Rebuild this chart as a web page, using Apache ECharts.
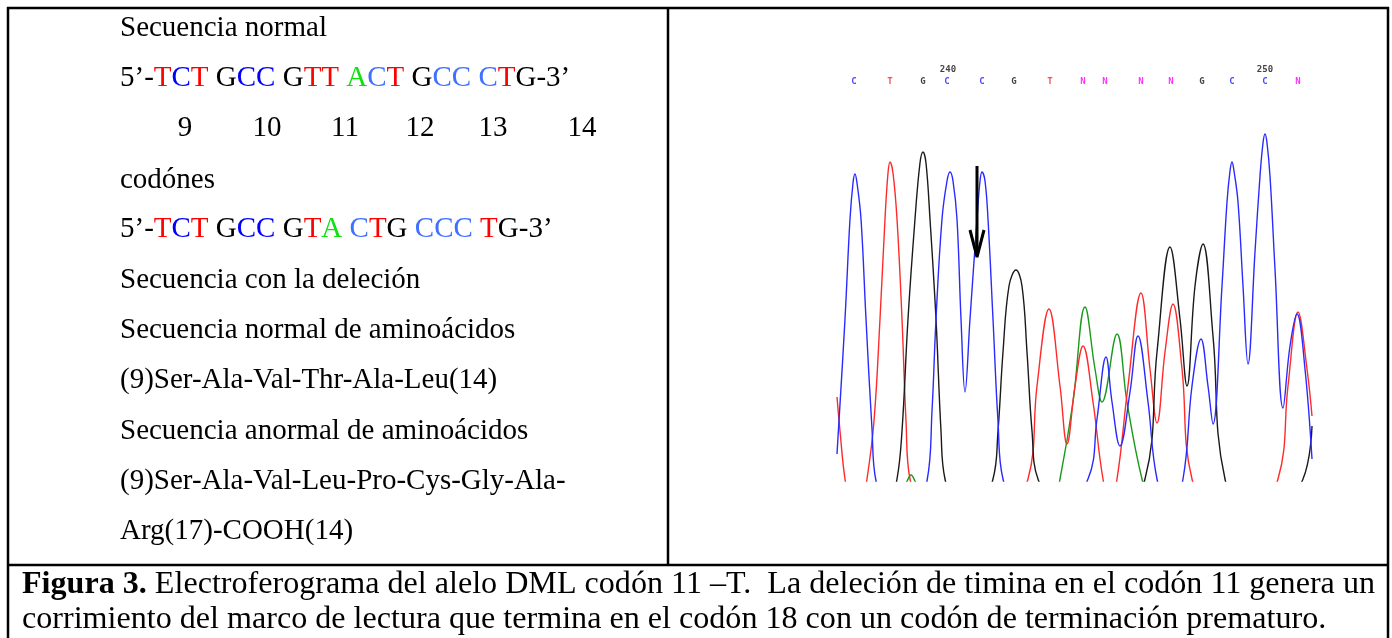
<!DOCTYPE html>
<html>
<head>
<meta charset="utf-8">
<script src="https://cdn.jsdelivr.net/npm/echarts@6.0.0/dist/echarts.min.js"></script>
<style>
  html, body { margin: 0; background: #fff; }
  #chart { width: 1392px; height: 638px; }
</style>
</head>
<body>
<div id="chart"></div>
<script>
// trazas del electroferograma: [posición, intensidad]
const blueTrace = [[1,27],[9,162],[14,262],[17,298],[19,307],[21,298],[25,262],[30,162],[36,52],[40,0],[65,-60],[91,0],[96,70],[100,162],[106,262],[111,300],[114,309],[117,300],[121,262],[125,162],[129,89],[134,162],[141,262],[144,300],[146,309],[149,300],[152,262],[157,162],[162,60],[167,2],[210,-60],[252,2],[261,62],[270,124],[276,79],[284,35],[294,89],[302,145],[312,79],[321,2],[334,-30],[347,2],[356,95],[365,142],[372,95],[377,57],[386,195],[391,279],[394,310],[396,319],[398,310],[402,279],[407,195],[412,117],[419,229],[424,305],[427,338],[429,347],[431,338],[434,305],[439,212],[447,73],[454,135],[461,167],[469,112],[476,22]];
const redTrace = [[1,84],[4,50],[9,2],[20,-60],[31,2],[38,60],[44,162],[49,262],[52,308],[54,319],[57,308],[61,262],[66,162],[70,60],[74,2],[130,-60],[192,2],[201,95],[213,172],[224,95],[231,37],[239,95],[247,135],[257,79],[267,2],[274,-20],[281,2],[292,95],[305,188],[314,112],[321,58],[329,129],[337,177],[346,112],[356,2],[400,-60],[442,2],[452,95],[462,169],[471,112],[476,65]];
const blackTrace = [[50,-40],[61,2],[66,50],[72,162],[79,262],[84,318],[87,329],[90,318],[94,262],[100,162],[105,50],[109,2],[133,-60],[157,2],[162,50],[167,129],[173,195],[180,211],[186,195],[191,129],[196,50],[202,2],[255,-60],[309,2],[321,129],[334,234],[344,162],[351,95],[359,195],[367,237],[377,145],[389,2],[428,-60],[467,2],[476,55]];
const greenTrace = [[62,-12],[70,-2],[75,6],[80,-2],[86,-12],[210,-60],[224,2],[237,79],[249,174],[259,112],[266,79],[281,147],[291,79],[306,2],[320,-40]];

// bases leídas y numeración
const baseCalls = ['C','T','G','C','C','G','T','N','N','N','N','G','C','C','N'];
const basePos = [18,54,87,111,146,178,214,247,269,305,335,366,396,429,462];
const baseNumbers = ['240','250'];
const baseNumberPos = [112,429];
const baseColors = { C: '#1a1aff', T: '#ff2020', G: '#111111', A: '#1a9a1a', N: '#ff00ff' };

// flecha
const arrowShaft = [[141,315],[141,226]];
const arrowHead = [[134,251],[141,224],[148,251]];

// textos de la celda izquierda
const seqNormal = [['5’-','k'],['T','r'],['C','b'],['T','r'],[' G','k'],['CC','b'],[' G','k'],['TT','r'],[' ','k'],['A','g'],['C','lb'],['T','r'],[' G','k'],['CC','lb'],[' ','k'],['C','lb'],['T','r'],['G-3’','k']];
const seqDeletion = [['5’-','k'],['T','r'],['C','b'],['T','r'],[' G','k'],['CC','b'],[' G','k'],['T','r'],['A','g'],[' ','k'],['C','lb'],['T','r'],['G ','k'],['CCC','lb'],[' ','k'],['T','r'],['G-3’','k']];
const codonNumbers = ['9','10','11','12','13','14'];
const codonNumberX = [185,267,345,420,493,582];
const plainLines = [
  ['Secuencia normal', 28],
  ['codónes', 180],
  ['Secuencia con la deleción', 280],
  ['Secuencia normal de aminoácidos', 330],
  ['(9)Ser-Ala-Val-Thr-Ala-Leu(14)', 380],
  ['Secuencia anormal de aminoácidos', 431],
  ['(9)Ser-Ala-Val-Leu-Pro-Cys-Gly-Ala-', 481],
  ['Arg(17)-COOH(14)', 531]
];
const captionBold = 'Figura 3.';
const captionLine1 = ' Electroferograma del alelo DML codón 11 \u2013T.  La deleción de timina en el codón 11 genera un';
const captionLine2 = 'corrimiento del marco de lectura que termina en el codón 18 con un codón de terminación prematuro.';

const serif = '"Liberation Serif", "Times New Roman", serif';
const fs = 29;
const seqRich = {
  k: { fill: '#000', fontSize: fs, fontFamily: serif },
  r: { fill: '#ff0000', fontSize: fs, fontFamily: serif },
  b: { fill: '#0000ff', fontSize: fs, fontFamily: serif },
  lb: { fill: '#4070ff', fontSize: fs, fontFamily: serif },
  g: { fill: '#10e010', fontSize: fs, fontFamily: serif }
};
const toRich = (parts) => parts.map(p => '{' + p[1] + '|' + p[0] + '}').join('');

// ancho para ajustar el pie de figura (letra condensada)
const ctx = document.createElement('canvas').getContext('2d');
const measure = (str, font) => { ctx.font = font; return ctx.measureText(str).width; };
const capFs = 32;
const capW = measure(captionBold, 'bold ' + capFs + 'px ' + serif) + measure(captionLine1, capFs + 'px ' + serif);
const capScale = (1375 - 22) / capW;

const graphic = [];
const lineStyle = { stroke: '#000', lineWidth: 2.5 };
[[7,8,1389,8],[8,7,8,638],[1388,7,1388,638],[668,7,668,565],[7,565,1389,565]].forEach(s => {
  graphic.push({ type: 'line', shape: { x1: s[0], y1: s[1], x2: s[2], y2: s[3] }, style: lineStyle, silent: true });
});
plainLines.forEach(l => {
  graphic.push({ type: 'text', x: 120, y: l[1], style: { text: l[0], font: fs + 'px ' + serif, fill: '#000', verticalAlign: 'middle' } });
});
graphic.push({ type: 'text', x: 120, y: 78, style: { text: toRich(seqNormal), rich: seqRich, verticalAlign: 'middle' } });
graphic.push({ type: 'text', x: 120, y: 229, style: { text: toRich(seqDeletion), rich: seqRich, verticalAlign: 'middle' } });
codonNumbers.forEach((n, i) => {
  graphic.push({ type: 'text', x: codonNumberX[i], y: 128, style: { text: n, font: fs + 'px ' + serif, fill: '#000', align: 'center', verticalAlign: 'middle' } });
});
graphic.push({
  type: 'text', x: 22, y: 585, scaleX: capScale,
  style: {
    text: '{b|' + captionBold + '}{n|' + captionLine1 + '}',
    verticalAlign: 'middle',
    rich: {
      b: { fontSize: capFs, fontWeight: 'bold', fontFamily: serif, fill: '#000' },
      n: { fontSize: capFs, fontFamily: serif, fill: '#000' }
    }
  }
});
graphic.push({
  type: 'text', x: 22, y: 620, scaleX: capScale,
  style: { text: captionLine2, font: capFs + 'px ' + serif, fill: '#000', verticalAlign: 'middle' }
});

const letterData = baseCalls.map((b, i) => ({
  value: [basePos[i], 399, b],
  label: { color: baseColors[b] }
}));
const numberData = baseNumbers.map((n, i) => ({ value: [baseNumberPos[i], 411, n] }));

const traceSeries = (data, color) => ({
  type: 'line',
  data: data,
  smooth: 0.4,
  showSymbol: false,
  clip: true,
  lineStyle: { color: color, width: 1.4 },
  silent: true
});

const chart = echarts.init(document.getElementById('chart'));
chart.setOption({
  animation: false,
  backgroundColor: '#fff',
  grid: { left: 836, top: 61, width: 480, height: 420 },
  xAxis: { type: 'value', min: 0, max: 480, show: false },
  yAxis: { type: 'value', min: 0, max: 420, show: false },
  graphic: graphic,
  series: [
    traceSeries(greenTrace, '#1a9a1a'),
    traceSeries(redTrace, '#ff2a2a'),
    traceSeries(blackTrace, '#1a1a1a'),
    traceSeries(blueTrace, '#2a2aff'),
    {
      type: 'line', data: arrowShaft, showSymbol: false, silent: true,
      lineStyle: { color: '#000', width: 3 }
    },
    {
      type: 'line', data: arrowHead, showSymbol: false, silent: true,
      lineStyle: { color: '#000', width: 3 }
    },
    {
      type: 'scatter', data: letterData, symbolSize: 0, silent: true,
      label: {
        show: true, position: 'inside', formatter: p => p.value[2],
        fontFamily: '"DejaVu Sans Mono", monospace', fontWeight: 'bold', fontSize: 9
      }
    },
    {
      type: 'scatter', data: numberData, symbolSize: 0, silent: true,
      label: {
        show: true, position: 'inside', formatter: p => p.value[2], color: '#111',
        fontFamily: '"DejaVu Sans Mono", monospace', fontWeight: 'bold', fontSize: 9
      }
    }
  ]
});
</script>
</body>
</html>
